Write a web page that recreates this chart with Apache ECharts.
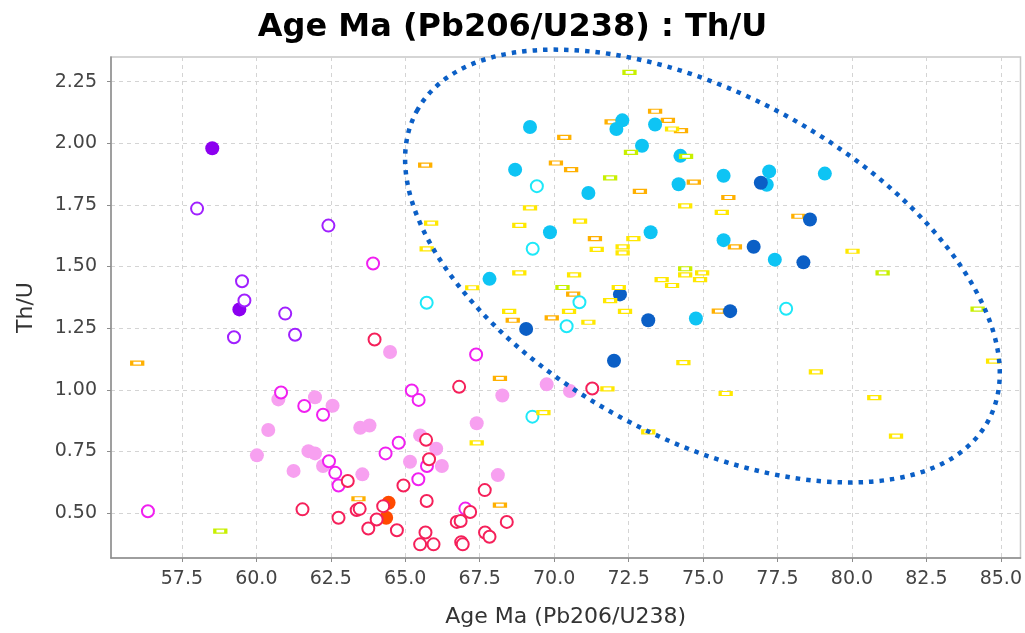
<!DOCTYPE html>
<html>
<head>
<meta charset="utf-8">
<title>Age Ma (Pb206/U238) : Th/U</title>
<script src="https://cdn.jsdelivr.net/npm/echarts@6/dist/echarts.min.js"></script>
<style>
  html, body { margin: 0; padding: 0; background: #ffffff; }
  #chart { width: 1025px; height: 633px; }
</style>
</head>
<body>
<div id="chart"></div>
<script>
// Axis ticks
const xTicks = [57.5, 60.0, 62.5, 65.0, 67.5, 70.0, 72.5, 75.0, 77.5, 80.0, 82.5, 85.0];
const yTicks = [0.50, 0.75, 1.00, 1.25, 1.50, 1.75, 2.00, 2.25];

// Sample groups: [age (Ma), Th/U]
const purpleOpen = [[58.01, 1.735], [62.42, 1.666], [59.52, 1.44], [59.60, 1.362], [60.97, 1.309], [59.25, 1.213], [61.30, 1.223]];
const purpleFilled = [[58.52, 1.98], [59.43, 1.326]];
const magentaOpen = [[56.36, 0.507], [60.83, 0.989], [61.61, 0.934], [62.24, 0.899], [62.44, 0.710], [62.65, 0.663], [62.76, 0.612],
  [67.38, 1.143], [65.22, 0.997], [65.45, 0.959], [64.78, 0.785], [64.34, 0.742], [65.73, 0.691], [65.44, 0.637], [67.02, 0.518], [63.92, 1.512]];
const pinkFilled = [[60.02, 0.734], [60.40, 0.837], [60.74, 0.961], [61.25, 0.671], [61.75, 0.751], [61.97, 0.742], [61.97, 0.970],
  [62.24, 0.691], [62.56, 0.935], [63.49, 0.846], [63.80, 0.855], [63.56, 0.657], [64.49, 1.153], [68.26, 0.977], [67.40, 0.864],
  [65.50, 0.815], [66.04, 0.761], [65.16, 0.708], [66.23, 0.691], [68.11, 0.654], [69.75, 1.022], [70.53, 0.995]];
const crimsonOpen = [[63.97, 1.204], [66.81, 1.012], [65.70, 0.797], [65.80, 0.718], [64.94, 0.612], [65.72, 0.549], [67.67, 0.593],
  [64.26, 0.528], [64.04, 0.474], [62.76, 0.481], [63.37, 0.512], [63.47, 0.517], [63.76, 0.437], [64.72, 0.430], [65.68, 0.421],
  [65.50, 0.373], [65.95, 0.373], [66.73, 0.464], [66.86, 0.468], [66.88, 0.382], [66.93, 0.373], [67.18, 0.504], [67.68, 0.421],
  [67.83, 0.404], [68.41, 0.464], [71.28, 1.005], [61.55, 0.515], [63.07, 0.630]];
const orangeRedFilled = [[64.44, 0.542], [64.36, 0.481]];
const cyanOpen = [[69.42, 1.826], [69.28, 1.572], [65.72, 1.353], [70.85, 1.355], [70.42, 1.258], [69.27, 0.891], [77.79, 1.329]];
const skyFilled = [[69.19, 2.066], [68.69, 1.893], [71.15, 1.798], [69.86, 1.639], [67.83, 1.450], [72.09, 2.058], [72.29, 2.093],
  [73.39, 2.076], [72.95, 1.990], [74.24, 1.949], [74.18, 1.834], [73.24, 1.639], [75.69, 1.868], [75.69, 1.607], [74.76, 1.289],
  [77.22, 1.886], [77.14, 1.832], [79.09, 1.877], [77.41, 1.528]];
const navyFilled = [[69.06, 1.247], [72.01, 1.118], [73.16, 1.282], [72.21, 1.387], [75.91, 1.319], [76.94, 1.840], [76.70, 1.580],
  [78.59, 1.691], [78.37, 1.517]];
const orangeRect = [[56.00, 1.108], [63.43, 0.558], [68.18, 1.046], [68.18, 0.532], [68.61, 1.282], [69.92, 1.292], [65.67, 1.911],
  [70.34, 2.024], [70.06, 1.920], [70.57, 1.893], [73.39, 2.130], [71.93, 2.087], [73.82, 2.093], [74.26, 2.051], [72.88, 1.805],
  [74.69, 1.842], [71.37, 1.613], [75.85, 1.780], [70.64, 1.388], [76.07, 1.580], [78.20, 1.704], [75.53, 1.319]];
const yellowRect = [[68.49, 1.318], [70.50, 1.318], [71.15, 1.274], [71.79, 1.004], [69.64, 0.907], [73.16, 0.829], [72.38, 1.318],
  [71.88, 1.362], [67.40, 0.785], [70.67, 1.466], [72.30, 1.555], [72.30, 1.580], [73.61, 1.447], [73.96, 1.423], [74.40, 1.466],
  [74.97, 1.474], [74.90, 1.447], [72.17, 1.415], [74.34, 1.110], [75.76, 0.985], [69.19, 1.738], [68.83, 1.667], [70.87, 1.684],
  [65.87, 1.676], [65.72, 1.572], [71.43, 1.570], [72.66, 1.613], [74.40, 1.746], [75.63, 1.720], [68.83, 1.474], [67.25, 1.414],
  [73.96, 2.058], [78.79, 1.073], [80.75, 0.968], [81.48, 0.812], [84.74, 1.116], [80.02, 1.562]];
const limeRect = [[58.79, 0.427], [72.53, 2.288], [72.58, 1.963], [71.88, 1.860], [70.28, 1.415], [74.40, 1.491], [81.03, 1.474],
  [84.22, 1.327], [74.43, 1.947]];

// Group outline annotation: centre in data units
const ringCentre = [74.98, 1.502];

const FONT = 'DejaVu Sans';

function openCircles(data, color) {
  return { type: 'scatter', data, symbol: 'circle', symbolSize: 12, silent: true,
    itemStyle: { color: '#ffffff', opacity: 1, borderColor: color, borderWidth: 2 } };
}
function filledCircles(data, color) {
  return { type: 'scatter', data, symbol: 'circle', symbolSize: 14, silent: true,
    itemStyle: { color: color, opacity: 1 } };
}
function rects(data, color) {
  return { type: 'scatter', data, symbol: 'rect', symbolSize: [11, 4], silent: true,
    itemStyle: { color: '#ffffff', opacity: 1, borderColor: color, borderWidth: 2 } };
}

const chart = echarts.init(document.getElementById('chart'), null, { renderer: 'canvas' });

const gridLine = { show: true, lineStyle: { color: '#d4d4d4', type: [4, 4], width: 1 } };

chart.setOption({
  animation: false,
  backgroundColor: '#ffffff',
  title: {
    text: 'Age Ma (Pb206/U238) : Th/U',
    left: 'center', top: 7,
    textStyle: { fontFamily: FONT, fontWeight: 'bold', fontSize: 32, color: '#000000' }
  },
  grid: { left: 111, right: 4, top: 57, bottom: 74, show: true, borderColor: '#c8c8c8', borderWidth: 1.5 },
  xAxis: {
    type: 'value', min: 55.12, max: 85.66,
    name: 'Age Ma (Pb206/U238)', nameLocation: 'middle', nameGap: 48,
    nameTextStyle: { fontFamily: FONT, fontSize: 22, color: '#333333' },
    axisLine: { show: true, onZero: false, lineStyle: { color: '#8c8c8c', width: 1.5 } },
    axisTick: { show: true, length: 4, customValues: xTicks, lineStyle: { color: '#8c8c8c' } },
    axisLabel: { customValues: xTicks, margin: 12, fontFamily: FONT, fontSize: 19, color: '#444444',
      formatter: v => v.toFixed(1) },
    splitLine: gridLine
  },
  yAxis: {
    type: 'value', min: 0.3176, max: 2.35,
    name: 'Th/U', nameLocation: 'middle', nameGap: 74,
    nameTextStyle: { fontFamily: FONT, fontSize: 22, color: '#333333' },
    axisLine: { show: true, onZero: false, lineStyle: { color: '#8c8c8c', width: 1.5 } },
    axisTick: { show: true, length: 4, customValues: yTicks, lineStyle: { color: '#8c8c8c' } },
    axisLabel: { customValues: yTicks, margin: 14, fontFamily: FONT, fontSize: 19, color: '#444444',
      formatter: v => v.toFixed(2) },
    splitLine: gridLine
  },
  series: [
    rects(orangeRect, '#ffb000'),
    filledCircles(pinkFilled, '#f7a0f0'),
    filledCircles(purpleFilled, '#8c00f0'),
    filledCircles(orangeRedFilled, '#ff4a00'),
    filledCircles(skyFilled, '#0ec4f4'),
    filledCircles(navyFilled, '#0b5fc6'),
    openCircles(purpleOpen, '#a020ff'),
    openCircles(magentaOpen, '#f020f0'),
    openCircles(crimsonOpen, '#f5205a'),
    openCircles(cyanOpen, '#1ee8f8'),
    rects(yellowRect, '#ffe800'),
    rects(limeRect, '#c8f000')
  ]
});

// Dotted outline around the high-age cluster
const c = chart.convertToPixel({ gridIndex: 0 }, ringCentre);
chart.setOption({
  graphic: [{
    type: 'ellipse', silent: true, z: 100,
    x: c[0], y: c[1], rotation: -0.4965,
    shape: { cx: 0, cy: 0, rx: 325, ry: 172 },
    style: { fill: null, stroke: '#0b5fc6', lineWidth: 4.5, lineDash: [4.5, 6], lineCap: 'butt' }
  }]
});
</script>
</body>
</html>
